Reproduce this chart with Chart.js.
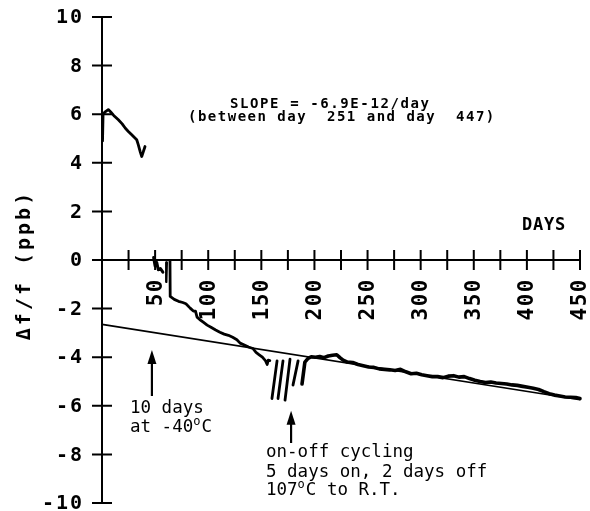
<!DOCTYPE html>
<html>
<head>
<meta charset="utf-8">
<script src="https://cdn.jsdelivr.net/npm/chart.js@4.4.1/dist/chart.umd.min.js"></script>
<style>
  html, body { margin: 0; padding: 0; background: #fff; }
  canvas { display: block; }
</style>
</head>
<body>
<canvas id="drift" width="590" height="511"></canvas>
<script>
// Frequency drift trace, delta f / f in ppb against elapsed days
const ink = '#000';

// axis ranges and ticks
const dayTicks = [0, 25, 50, 75, 100, 125, 150, 175, 200, 225, 250, 275, 300, 325, 350, 375, 400, 425, 450];
const dayLabels = [50, 100, 150, 200, 250, 300, 350, 400, 450];
const ppbTicks = [10, 8, 6, 4, 2, 0, -2, -4, -6, -8, -10];

// first run, before the cold soak
const warmupDays = [0.5, 1, 3, 5.9, 8, 11, 15.4, 19, 22, 24.8, 28, 32.7, 34.2, 36, 37.4, 40.5];
const warmupPpb  = [4.9, 6.0, 6.1, 6.19, 6.1, 5.95, 5.77, 5.6, 5.42, 5.29, 5.15, 4.95, 4.74, 4.45, 4.26, 4.67];

// short pieces around the -40C period
const coldDays = [48.6, 50, 51.5, 53, 55, 57.3];
const coldPpb  = [0.1, -0.25, -0.1, -0.4, -0.35, -0.5];
const restartDays = [61, 60.5];
const restartPpb  = [-0.1, -0.9];

// recovery after the cold soak
const recoveryDays = [64, 64.2, 68, 72, 76, 79, 83, 86, 88, 89.5, 92, 95, 99, 103, 107, 111, 115, 119, 123, 127, 130, 134, 138, 142, 145, 148, 151, 154, 155.5, 156.5, 158];
const recoveryPpb  = [-0.05, -1.5, -1.62, -1.7, -1.75, -1.8, -1.98, -2.1, -2.1, -2.35, -2.45, -2.55, -2.68, -2.78, -2.88, -2.97, -3.05, -3.1, -3.18, -3.28, -3.42, -3.5, -3.58, -3.64, -3.8, -3.9, -4.0, -4.15, -4.3, -4.12, -4.14];

// on-off cycling: each off period pulls the trace down
const spikeTopDays    = [164.8, 170.4, 177.0, 184.6];
const spikeTopPpb     = [-4.15, -4.15, -4.08, -4.15];
const spikeBottomDays = [160.0, 165.7, 172.3, 179.8];
const spikeBottomPpb  = [-5.7, -5.7, -5.77, -5.15];

// continuous run to the end
const longRunDays = [188.3, 191, 194, 197, 201, 205, 209, 213, 217, 221, 224, 227, 231, 236, 241, 246, 251, 256, 261, 266, 271, 276, 281, 286, 291, 296, 301, 306, 311, 316, 321, 326, 331, 336, 341, 346, 351, 356, 361, 366, 371, 376, 381, 386, 391, 396, 401, 406, 411, 416, 421, 426, 431, 436, 441, 446, 450];
const longRunPpb  = [-5.1, -4.2, -4.05, -3.98, -4.0, -3.97, -4.02, -3.95, -3.92, -3.9, -4.02, -4.12, -4.2, -4.22, -4.3, -4.35, -4.4, -4.42, -4.48, -4.5, -4.52, -4.55, -4.5, -4.6, -4.68, -4.66, -4.72, -4.76, -4.8, -4.8, -4.84, -4.78, -4.76, -4.82, -4.8, -4.88, -4.95, -5.0, -5.04, -5.02, -5.06, -5.08, -5.1, -5.14, -5.16, -5.2, -5.24, -5.28, -5.33, -5.42, -5.5, -5.56, -5.6, -5.64, -5.65, -5.66, -5.7];

// least squares fit, day 251 to 447, extended over the full range
const fitDays = [0, 450];
const fitPpb  = [-2.65, -5.75];

function pts(days, vals) {
  return days.map((d, i) => ({ x: d, y: vals[i] }));
}

function trace(days, vals, width) {
  return {
    data: pts(days, vals),
    showLine: true,
    borderColor: ink,
    borderWidth: width,
    pointRadius: 0,
    tension: 0,
    clip: false,
    borderJoinStyle: 'round',
    borderCapStyle: 'round'
  };
}

const datasets = [
  trace(fitDays, fitPpb, 1.6),
  trace(warmupDays, warmupPpb, 2.8),
  trace(coldDays, coldPpb, 3),
  trace(restartDays, restartPpb, 2.4),
  trace(recoveryDays, recoveryPpb, 2.8),
  trace(longRunDays, longRunPpb, 3.6)
];
spikeTopDays.forEach((d, i) => {
  datasets.push(trace([d, spikeBottomDays[i]], [spikeTopPpb[i], spikeBottomPpb[i]], 2.8));
});

function txt(ctx, s, x, y, font, align, spacing) {
  ctx.font = font;
  ctx.textAlign = align || 'left';
  ctx.letterSpacing = (spacing || 0) + 'px';
  ctx.fillText(s, x, y);
}

function arrow(ctx, x, tipY, tailY) {
  ctx.beginPath();
  ctx.lineWidth = 2.2;
  ctx.moveTo(x, tipY + 8);
  ctx.lineTo(x, tailY);
  ctx.stroke();
  ctx.beginPath();
  ctx.moveTo(x, tipY);
  ctx.lineTo(x - 4.5, tipY + 14);
  ctx.lineTo(x + 4.5, tipY + 14);
  ctx.closePath();
  ctx.fill();
}

// degree written as a raised small "o", as on the original plot
function degText(ctx, before, after, x, y) {
  const f = '17.5px "DejaVu Sans Mono"';
  txt(ctx, before, x, y, f);
  let w = ctx.measureText(before).width;
  txt(ctx, 'o', x + w, y - 7, '12px "DejaVu Sans Mono"');
  w += ctx.measureText('o').width + 1;
  txt(ctx, after, x + w, y, f);
}

const axesAndNotes = {
  id: 'axesAndNotes',
  afterDatasetsDraw(chart) {
    const ctx = chart.ctx;
    const xs = chart.scales.x, ys = chart.scales.y;
    const x0 = xs.getPixelForValue(0), y0 = ys.getPixelForValue(0);
    ctx.save();
    ctx.strokeStyle = ink;
    ctx.fillStyle = ink;
    ctx.lineWidth = 2;

    // vertical axis with ticks crossing it
    ctx.beginPath();
    ctx.moveTo(x0, ys.getPixelForValue(10));
    ctx.lineTo(x0, ys.getPixelForValue(-10));
    ppbTicks.forEach(v => {
      const y = ys.getPixelForValue(v);
      ctx.moveTo(x0 - 10, y);
      ctx.lineTo(x0 + 10, y);
    });
    // horizontal axis through zero
    ctx.moveTo(x0, y0);
    ctx.lineTo(xs.getPixelForValue(450), y0);
    dayTicks.slice(1).forEach(d => {
      const x = xs.getPixelForValue(d);
      ctx.moveTo(x, y0 - 10);
      ctx.lineTo(x, y0 + 10);
    });
    ctx.stroke();

    ctx.textBaseline = 'middle';
    ppbTicks.forEach(v => {
      txt(ctx, String(v), 84, ys.getPixelForValue(v) + 1, 'bold 20px "DejaVu Sans Mono"', 'right', 2);
    });
    dayLabels.forEach(d => {
      ctx.save();
      ctx.translate(xs.getPixelForValue(d) + 1, y0 + 18);
      ctx.rotate(-Math.PI / 2);
      txt(ctx, String(d), 0, 0, 'bold 21px "DejaVu Sans Mono"', 'right', 1.5);
      ctx.restore();
    });

    // axis titles
    ctx.save();
    ctx.translate(25, 265);
    ctx.rotate(-Math.PI / 2);
    txt(ctx, '\u0394f/f (ppb)', 0, 0, 'bold 20px "DejaVu Sans Mono"', 'center', 3);
    ctx.restore();
    ctx.textBaseline = 'alphabetic';
    txt(ctx, 'DAYS', 522, 230, 'bold 17px "DejaVu Sans Mono"', 'left', 0.8);

    // slope note
    txt(ctx, 'SLOPE = -6.9E-12/day', 230, 108, 'bold 14px "DejaVu Sans Mono"', 'left', 1.6);
    txt(ctx, '(between day  251 and day  447)', 188, 121, 'bold 14px "DejaVu Sans Mono"', 'left', 1.5);

    // event notes
    arrow(ctx, xs.getPixelForValue(47), ys.getPixelForValue(-3.7), 396);
    arrow(ctx, xs.getPixelForValue(178), ys.getPixelForValue(-6.2), 443);
    ctx.letterSpacing = '0px';
    txt(ctx, '10 days', 130, 413, '17.5px "DejaVu Sans Mono"');
    degText(ctx, 'at -40', 'C', 130, 432);
    txt(ctx, 'on-off cycling', 266, 457, '17.5px "DejaVu Sans Mono"');
    txt(ctx, '5 days on, 2 days off', 266, 477, '17.5px "DejaVu Sans Mono"');
    degText(ctx, '107', 'C to R.T.', 266, 495);
    ctx.restore();
  }
};

new Chart(document.getElementById('drift'), {
  type: 'scatter',
  data: { datasets: datasets },
  options: {
    responsive: false,
    animation: false,
    devicePixelRatio: 1,
    layout: { padding: { left: 102, right: 10, top: 17, bottom: 8 } },
    plugins: {
      legend: { display: false },
      tooltip: { enabled: false }
    },
    scales: {
      x: { type: 'linear', min: 0, max: 450, display: false },
      y: { type: 'linear', min: -10, max: 10, display: false }
    }
  },
  plugins: [axesAndNotes]
});
</script>
</body>
</html>
